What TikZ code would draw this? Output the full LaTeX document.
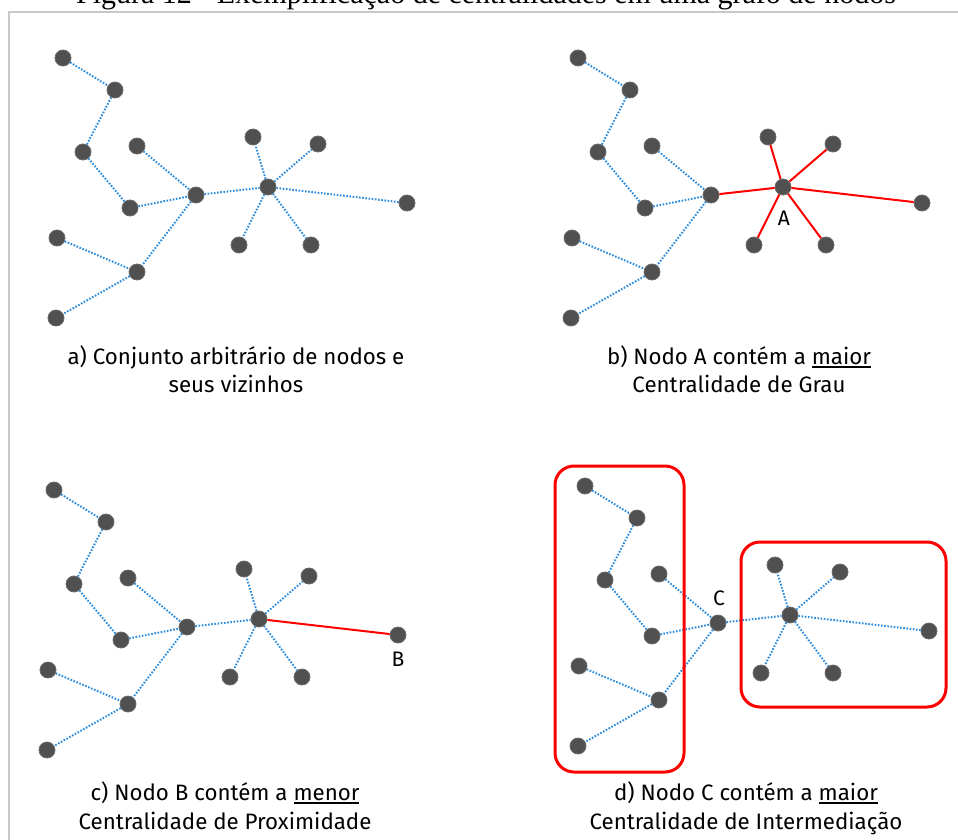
\documentclass[tikz,border=0pt]{standalone}
\usepackage{fontspec}
\setmainfont{Fira Sans}
\newfontfamily\titlefont{Liberation Serif}
\definecolor{dotfill}{RGB}{80,80,80}
\definecolor{dotedge}{RGB}{105,105,105}
\definecolor{edgeblue}{RGB}{45,140,220}
\definecolor{framegray}{RGB}{200,200,200}
\newcommand\ulin[1]{\setbox0\hbox{#1}\rlap{\rule[-3.5pt]{\wd0}{1.4pt}}\box0}
\newcommand\graphnodes[1]{%
 \node[dot] (#1n1) at (63,58) {};
 \node[dot] (#1n2) at (115,90) {};
 \node[dot] (#1n3) at (83,152) {};
 \node[dot] (#1n4) at (137,146) {};
 \node[dot] (#1n5) at (130,208) {};
 \node[dot] (#1h) at (196,195) {};
 \node[dot] (#1n7) at (57,238) {};
 \node[dot] (#1n8) at (137,272) {};
 \node[dot] (#1n9) at (56,318) {};
 \node[dot] (#1s) at (268,187) {};
 \node[dot] (#1s1) at (253,137) {};
 \node[dot] (#1s2) at (318,144) {};
 \node[dot] (#1s3) at (407,203) {};
 \node[dot] (#1s4) at (239,245) {};
 \node[dot] (#1s5) at (311,245) {};
}
\newcommand\graphedges[4]{%
 \draw[blueedge] (#1n1)--(#1n2) (#1n2)--(#1n3) (#1n3)--(#1n5) (#1n5)--(#1h)
   (#1n4)--(#1h) (#1h)--(#1n8) (#1n7)--(#1n8) (#1n8)--(#1n9);
 \draw[#2] (#1h)--(#1s);
 \draw[#3] (#1s)--(#1s1) (#1s)--(#1s2) (#1s)--(#1s4) (#1s)--(#1s5);
 \draw[#4] (#1s)--(#1s3);
}
\begin{document}
\begin{tikzpicture}[x=1pt,y=-1pt,
  dot/.style={circle,fill=dotfill,draw=dotedge,line width=0.8pt,minimum size=16pt,inner sep=0pt},
  blueedge/.style={edgeblue,line width=2pt,dash pattern=on 1.6pt off 1.6pt},
  rededge/.style={red,line width=2pt},
  caption/.style={anchor=base,inner sep=0pt,font=\fontsize{22.3}{26}\selectfont},
  lbl/.style={inner sep=0pt,font=\fontsize{21}{24}\selectfont},
  redbox/.style={red,line width=3pt,rounded corners=19pt}]
\useasboundingbox (0,0) rectangle (958,840);
% frame and cut title
\draw[framegray,line width=2pt] (8.5,870) -- (8.5,12.5) -- (990,12.5);
\node[anchor=base,inner sep=0pt,font=\titlefont\fontsize{30}{32}\selectfont] (title) at (486,4)
  {Figura 12 - Exemplificação de centralidades em uma grafo de nodos};
% panel a
\graphnodes{a}
\graphedges{a}{blueedge}{blueedge}{blueedge}
\node[caption] (capa1) at (236,364) {a) Conjunto arbitrário de nodos e};
\node[caption] (capa2) at (236,392) {seus vizinhos};
% panel b
\begin{scope}[shift={(515,0)}]
\graphnodes{b}
\graphedges{b}{rededge}{rededge}{rededge}
\node[lbl] (labA) at (269,218) {A};
\end{scope}
\node[caption] (capb1) at (739,364) {b) Nodo A contém a \ulin{maior}};
\node[caption] (capb2) at (739,392) {Centralidade de Grau};
% panel c
\begin{scope}[shift={(-9,432)}]
\graphnodes{c}
\graphedges{c}{blueedge}{blueedge}{rededge}
\node[lbl] (labB) at (407,227) {B};
\end{scope}
\node[caption] (capc1) at (225,800) {c) Nodo B contém a \ulin{menor}};
\node[caption] (capc2) at (225,829) {Centralidade de Proximidade};
% panel d
\begin{scope}[shift={(522,428)}]
\graphnodes{d}
\graphedges{d}{blueedge}{blueedge}{blueedge}
\node[lbl] (labC) at (197,170) {C};
\end{scope}
\draw[redbox] (555,466) rectangle (684,772);
\draw[redbox] (741,542) rectangle (946,707);
\node[caption] (capd1) at (746,800) {d) Nodo C contém a \ulin{maior}};
\node[caption] (capd2) at (746,829) {Centralidade de Intermediação};
\end{tikzpicture}
\end{document}
